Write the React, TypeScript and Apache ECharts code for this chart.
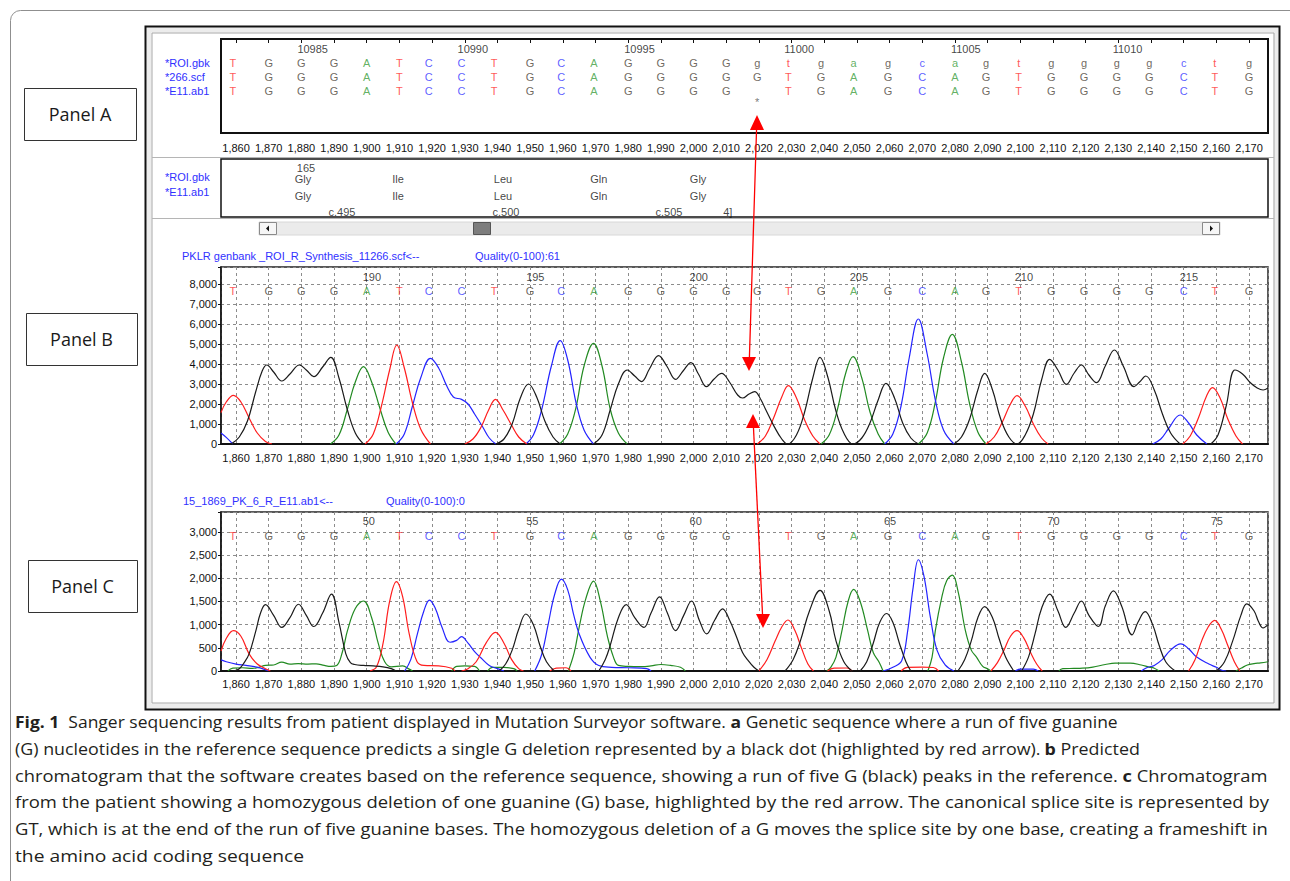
import React, { useEffect, useRef } from 'react';
import * as echarts from 'echarts';

// ---------- data ----------
const baseX = [1859, 1870, 1880, 1890, 1900, 1910, 1919, 1929, 1939, 1950, 1959.5, 1969.5, 1980, 1990, 2000, 2010, 2019.5, 2029, 2039, 2049, 2059.5, 2070, 2080, 2089.5, 2099.5, 2109.5, 2119.5, 2129.5, 2139.5, 2150, 2159.5, 2170];
const seqROI = 'TGGGATCCTGCAGGGGgtgagcagtggggctg'.split('');
const seq266 = 'TGGGATCCTGCAGGGGGTGAGCAGTGGGGCTG'.split('');
const seqE11 = 'TGGGATCCTGCAGGGG-TGAGCAGTGGGGCTG'.split('');
const refNums = ['10985', '10990', '10995', '11000', '11005', '11010'];
const refNumIdx = [2, 7, 12, 17, 22, 27];
const predNums = ['190', '195', '200', '205', '210', '215'];
const predNumIdx = [4, 9, 14, 19, 24, 29];
const patNums = ['50', '55', '60', '65', '70', '75'];
const patNumIdx = [4, 9, 14, 20, 25, 30];
const deletionIdx = 16;

const aminoRef = ['Gly', 'Ile', 'Leu', 'Gln', 'Gly'];
const aminoPat = ['Gly', 'Ile', 'Leu', 'Gln', 'Gly'];
const aminoX = [1880.5, 1909.6, 1941.7, 1971, 2001.4];
const codonLabels = ['c.495', 'c.500', 'c.505', '4]'];
const codonX = [1892.4, 1942.6, 1992.5, 2010.5];
const aminoNum = '165';
const aminoNumX = 1881.4;

// Panel B (predicted, reference) traces: [position, signal]
const predG = [
  [[1858.5, 0], [1861, 350], [1863.5, 1150], [1866, 2600], [1868, 3650], [1869.4, 3950], [1871.5, 3600], [1874, 3150], [1876.5, 3500], [1879.4, 3950], [1881.5, 3700], [1883.8, 3370], [1886.5, 3850], [1889, 4330], [1891.5, 3300], [1894, 1750], [1896.5, 550], [1899, 0]],
  [[1939.5, 0], [1942, 250], [1944.5, 1000], [1947, 2300], [1949.5, 3000], [1952, 2350], [1954.5, 1150], [1957, 350], [1959.2, 0]],
  [[1969.4, 0], [1972, 450], [1974.5, 1700], [1977, 3000], [1979.7, 3700], [1982, 3400], [1984.1, 3120], [1986.5, 3750], [1989.3, 4420], [1991.8, 3900], [1994.5, 3230], [1996.8, 3650], [1999.2, 4070], [2001.5, 3500], [2004, 2870], [2006.3, 3250], [2008.6, 3530], [2011, 3100], [2013.5, 2450], [2015, 2300], [2017, 2500], [2018.7, 2620], [2020.5, 2250], [2022, 1750], [2024.7, 870], [2027, 250], [2028.8, 0], [2031.5, 450], [2034, 1600], [2036.5, 3300], [2038.7, 4330], [2041, 3400], [2043.5, 1700], [2046, 550], [2048.8, 0], [2051.5, 300], [2054, 1050], [2056.5, 2200], [2058.9, 3030], [2061.5, 2300], [2064, 1050], [2066.5, 300], [2068.8, 0]],
  [[2079.7, 0], [2082, 350], [2084.5, 1250], [2087, 2700], [2089.1, 3530], [2091.5, 2700], [2094, 1250], [2096.5, 350], [2099, 0], [2101.5, 450], [2104, 1500], [2106.5, 3200], [2109, 4230], [2111.5, 3700], [2114.1, 2980], [2116.5, 3550], [2118.7, 3950], [2121, 3450], [2123.3, 3070], [2126, 3900], [2128.8, 4700], [2131.5, 3900], [2134.8, 2870], [2136.5, 3100], [2138.4, 3400], [2141, 2700], [2143.5, 1500], [2146, 550], [2148.9, 0]],
  [[2158.3, 0], [2160.5, 450], [2163, 1900], [2165.7, 3700], [2168, 3500], [2170.5, 3050], [2172.5, 2800], [2174.3, 2700], [2175.8, 2800]],
];
const predA = [
  [[1888.9, 0], [1891.5, 450], [1894, 1700], [1896.5, 3100], [1899, 3870], [1901.5, 3100], [1904, 1800], [1906.5, 600], [1908.9, 0]],
  [[1959, 0], [1961.5, 500], [1964, 1800], [1966.5, 3900], [1969.4, 5030], [1972, 3900], [1974.5, 1750], [1977, 550], [1979.7, 0]],
  [[2039, 0], [2041.5, 450], [2044, 1700], [2046.5, 3500], [2048.8, 4370], [2051.5, 3300], [2054, 1600], [2056.5, 500], [2058.5, 0]],
  [[2068.8, 0], [2071.5, 550], [2074, 2100], [2076.5, 4300], [2079.2, 5480], [2082, 4100], [2084.5, 2000], [2087, 600], [2089.5, 0]],
];
const predC = [
  [[1855.4, 550], [1857, 330], [1859, 0]],
  [[1909, 0], [1911.5, 500], [1914, 1900], [1916.5, 3300], [1919.5, 4280], [1922, 3800], [1924.5, 2900], [1926.5, 2350], [1929, 2230], [1931, 2000], [1933, 1500], [1935.5, 850], [1937.5, 300], [1939.5, 0]],
  [[1948.7, 0], [1951, 450], [1953.5, 1700], [1956.5, 3900], [1959.2, 5170], [1961.5, 4200], [1964, 2100], [1966.5, 700], [1969.4, 0]],
  [[2058.5, 0], [2061, 500], [2063.5, 1900], [2066, 4300], [2068.8, 6250], [2071.5, 4500], [2074, 2200], [2076.5, 700], [2079.7, 0]],
  [[2140.5, 0], [2143, 250], [2145.5, 800], [2148.9, 1450], [2151.5, 1050], [2154, 450], [2157.1, 0]],
];
const predT = [
  [[1855.4, 1570], [1857, 2100], [1859.2, 2430], [1861.5, 2100], [1864, 1300], [1866.5, 550], [1869, 130], [1871, 0]],
  [[1899.5, 0], [1902, 500], [1904.5, 1900], [1907, 3700], [1909.2, 4950], [1911.5, 3800], [1914, 2050], [1916.5, 750], [1919.5, 0]],
  [[1930, 0], [1932.5, 250], [1935, 850], [1937.3, 1700], [1939.4, 2230], [1941.7, 1700], [1944.3, 950], [1946.5, 350], [1949, 0]],
  [[2019.5, 0], [2022, 400], [2024.5, 1300], [2027, 2350], [2029, 2920], [2031.5, 2300], [2034, 1200], [2036.5, 400], [2038.7, 0]],
  [[2089.5, 0], [2092, 350], [2094.5, 1100], [2097, 2000], [2099, 2420], [2101.5, 1900], [2104, 1000], [2106.5, 300], [2108.5, 0]],
  [[2149.7, 0], [2152, 400], [2154.5, 1300], [2157, 2400], [2158.8, 2820], [2161, 2350], [2163.5, 1250], [2166, 400], [2168, 0]],
];

// Panel C (patient) traces
const patG = [
  [[1859.2, 0], [1861, 50], [1862.5, 180], [1864, 370], [1866, 850], [1867.5, 1250], [1869, 1430], [1871.5, 1200], [1874, 940], [1876.5, 1150], [1879.1, 1440], [1881.5, 1200], [1883.8, 960], [1886.5, 1250], [1889.2, 1660], [1891.5, 1050], [1893.6, 370], [1895, 180], [1896.3, 140], [1899, 120], [1902, 110], [1905, 90], [1907.5, 50], [1909, 0]],
  [[1940.5, 0], [1942.5, 150], [1944.5, 450], [1946.5, 900], [1948.7, 1230], [1951, 1000], [1953, 550], [1955, 200], [1957.4, 0]],
  [[1971, 0], [1973, 250], [1974.5, 550], [1977, 1150], [1979.4, 1430], [1982, 1150], [1984.8, 940], [1987, 1250], [1989.6, 1600], [1992, 1250], [1994.5, 870], [1997, 1200], [1999.4, 1510], [2001.8, 1090], [2004, 800], [2006.5, 1100], [2008.9, 1340], [2011, 1100], [2013.2, 730], [2015, 400], [2016.7, 230], [2018.5, 80], [2020, 0]],
  [[2028, 0], [2030.5, 250], [2032.7, 650], [2035.5, 1300], [2038.7, 1740], [2041.5, 1300], [2043.6, 650], [2046, 200], [2048.5, 0]],
  [[2051, 0], [2053, 200], [2055, 600], [2057, 1050], [2059.1, 1240], [2061, 1050], [2063, 600], [2065, 200], [2066.5, 0]],
  [[2080.9, 0], [2083, 250], [2085, 650], [2087, 1150], [2089.1, 1390], [2091.5, 1150], [2093.5, 700], [2095.5, 300], [2098, 0]],
  [[2100.4, 0], [2102.5, 300], [2104.5, 800], [2106.5, 1350], [2109, 1660], [2111.5, 1300], [2113.9, 940], [2116.5, 1250], [2118.7, 1510], [2121, 1200], [2123.9, 960], [2126, 1400], [2128.5, 1730], [2131, 1400], [2134.2, 780], [2136, 1050], [2138.2, 1280], [2140.5, 1000], [2142.5, 550], [2144.5, 200], [2147.4, 0]],
  [[2160, 0], [2162.5, 200], [2165, 650], [2167.5, 1200], [2169.3, 1450], [2171.5, 1300], [2173, 1050], [2174.3, 930], [2175.8, 1000]],
];
const patA = [
  [[1857.5, 0], [1859, 60], [1862, 70], [1865, 55], [1867, 80], [1869, 120], [1871.5, 130], [1874, 190], [1876.5, 150], [1879, 160], [1882, 150], [1884.5, 155], [1887, 120], [1889, 100], [1890.8, 120], [1892.5, 400], [1894.1, 870], [1896.5, 1350], [1899, 1510], [1901.5, 1150], [1903.5, 600], [1905.5, 200], [1907.5, 90], [1911, 110], [1913, 40], [1914, 0]],
  [[1926, 0], [1927.5, 100], [1930, 110], [1933, 100], [1934.5, 0]],
  [[1937, 0], [1938.5, 80], [1942, 80], [1945, 50], [1946, 0]],
  [[1961.7, 0], [1963.5, 400], [1965, 940], [1967, 1550], [1969.4, 1940], [1971.5, 1500], [1973.7, 730], [1975.5, 300], [1977, 120], [1980, 100], [1984, 95], [1987, 110], [1990, 140], [1993, 120], [1996, 80], [1997.5, 0]],
  [[2040.7, 0], [2042, 80], [2043.6, 300], [2045.5, 900], [2047.3, 1500], [2049, 1760], [2051, 1500], [2053.3, 870], [2055, 400], [2056.8, 190], [2058, 0]],
  [[2071.7, 0], [2073, 300], [2074, 870], [2076, 1600], [2077.5, 1950], [2079.2, 2070], [2081, 1700], [2083.2, 870], [2085, 450], [2086.6, 300], [2088.5, 100], [2090, 50], [2091, 0]],
  [[2111.8, 0], [2113, 50], [2116.4, 55], [2119, 60], [2122.2, 85], [2126, 140], [2129, 170], [2133.6, 170], [2137, 130], [2139.4, 85], [2141, 60], [2142.5, 0]],
  [[2166, 0], [2167.7, 65], [2169.5, 130], [2171.5, 160], [2173.5, 175], [2175.8, 200]],
];
const patC = [
  [[1855.4, 240], [1857, 200], [1860, 150], [1863, 120], [1866, 90], [1868, 50], [1870, 0]],
  [[1911.6, 0], [1913.5, 250], [1915.5, 800], [1917.5, 1300], [1919.2, 1530], [1921, 1350], [1923, 950], [1925.5, 620], [1927.5, 660], [1929, 740], [1931, 600], [1933, 420], [1935, 280], [1937.5, 120], [1940, 50], [1942, 0]],
  [[1951.4, 0], [1953.5, 350], [1955.5, 1000], [1957.5, 1650], [1959.6, 1980], [1961.5, 1750], [1963.2, 1250], [1965, 800], [1968.3, 300], [1971, 120], [1975, 80], [1980, 70], [1985.7, 50], [1987, 0]],
  [[2058, 0], [2061, 80], [2063.7, 220], [2065.5, 850], [2067.2, 1800], [2068.8, 2400], [2070.5, 2050], [2072.5, 1150], [2074.5, 450], [2077, 130], [2079.7, 0]],
  [[2098.5, 0], [2100, 40], [2104, 40], [2105.5, 0]],
  [[2137, 0], [2139, 80], [2141, 120], [2143.5, 250], [2146, 450], [2149.1, 585], [2151.5, 480], [2154, 300], [2157.7, 150], [2160, 80], [2161.7, 15], [2163, 0]],
];
const patT = [
  [[1855.4, 430], [1857, 700], [1859.2, 870], [1861.5, 750], [1864, 370], [1866.5, 150], [1869, 50], [1870.5, 0]],
  [[1901, 0], [1903, 90], [1905, 600], [1907, 1500], [1909.1, 1930], [1911, 1600], [1913, 800], [1915.4, 200], [1917.5, 120], [1922, 110], [1926, 60], [1927, 0]],
  [[1929, 0], [1931, 50], [1933.5, 200], [1936.5, 600], [1939.4, 835], [1942, 600], [1944.3, 250], [1946.5, 50], [1948, 0]],
  [[1956, 0], [1958, 60], [1961, 70], [1962.5, 0]],
  [[2020, 0], [2022.5, 250], [2025, 650], [2027, 950], [2028.9, 1100], [2031, 880], [2033, 500], [2035, 150], [2036.7, 0]],
  [[2041, 0], [2043, 60], [2047, 65], [2048.5, 0]],
  [[2063.5, 0], [2065.4, 80], [2070, 85], [2073.4, 75], [2075, 0]],
  [[2091, 0], [2093, 180], [2095, 450], [2097, 750], [2099, 870], [2101, 720], [2103, 420], [2105, 150], [2106.7, 0]],
  [[2151.5, 0], [2153.5, 250], [2155.5, 650], [2157.5, 950], [2159.5, 1090], [2161.5, 900], [2163.5, 550], [2165.5, 200], [2167.2, 0]],
];

const captionLines = [
  '{b|Fig. 1}  Sanger sequencing results from patient displayed in Mutation Surveyor software. {b|a} Genetic sequence where a run of five guanine',
  '(G) nucleotides in the reference sequence predicts a single G deletion represented by a black dot (highlighted by red arrow). {b|b} Predicted',
  'chromatogram that the software creates based on the reference sequence, showing a run of five G (black) peaks in the reference. {b|c} Chromatogram',
  'from the patient showing a homozygous deletion of one guanine (G) base, highlighted by the red arrow. The canonical splice site is represented by',
  'GT, which is at the end of the run of five guanine bases. The homozygous deletion of a G moves the splice site by one base, creating a frameshift in',
  'the amino acid coding sequence',
];
const captionRightEdge = [1118, 1140, 1268, 1268, 1268, 304];

// ---------- styling ----------
const SANS = '"Liberation Sans", Arial, sans-serif';
const NARROW = '"Liberation Sans Narrow", "Arial Narrow", "Liberation Sans", Arial, sans-serif';
const CAP = '"Open Sans", "Noto Sans", sans-serif';
const UI = '"Open Sans", "Noto Sans", sans-serif';
const letterColor: Record<string, string> = { T: '#ff2d2d', G: '#4a4236', A: '#3a9d3a', C: '#3535ff' };
const traceColor: Record<string, string> = { G: '#1a1a1a', A: '#228a22', C: '#2424ff', T: '#ff1e1e' };
const BLUE = '#3030ff';
const X_MIN = 1855.4;
const X_MAX = 2175.8;
const CAP_SIZE = 16.8;
const CAP_LEFT = 15;

const fmtNum = (v: number) => Math.round(v).toLocaleString('en-US');

function joinSegs(segs: number[][][]) {
  const out: any[] = [];
  segs.forEach((s, i) => {
    if (i > 0) out.push([s[0][0], '-']);
    s.forEach((p) => out.push([p[0], p[1]]));
  });
  return out;
}

// measure a rich caption line (with {b|...} bold runs) to fit its width
function measureRich(line: string, fs: number): number {
  try {
    const ctx = document.createElement('canvas').getContext('2d');
    if (!ctx) return 0;
    let w = 0;
    const re = /\{b\|([^}]*)\}/g;
    let last = 0;
    let m: RegExpExecArray | null;
    while ((m = re.exec(line))) {
      ctx.font = `${fs}px ${CAP}`;
      w += ctx.measureText(line.slice(last, m.index)).width;
      ctx.font = `bold ${fs}px ${CAP}`;
      w += ctx.measureText(m[1]).width;
      last = m.index + m[0].length;
    }
    ctx.font = `${fs}px ${CAP}`;
    w += ctx.measureText(line.slice(last)).width;
    return w;
  } catch (e) {
    return 0;
  }
}

function xAxisDef(gi: number, show: boolean, margin: number, ticks: boolean, split: boolean) {
  return {
    type: 'value',
    gridIndex: gi,
    min: X_MIN,
    max: X_MAX,
    splitNumber: 32,
    minInterval: 10,
    maxInterval: 10,
    show: true,
    axisLine: { show: show, lineStyle: { color: '#111', width: 2 } },
    axisTick: { show: ticks, length: 4, inside: false, lineStyle: { color: '#111', width: 1 } },
    axisLabel: {
      show,
      margin,
      showMinLabel: true,
      showMaxLabel: true,
      fontFamily: SANS,
      fontSize: 11,
      color: '#111',
      formatter: (v: number) => (Math.abs(v - Math.round(v / 10) * 10) < 1e-6 ? fmtNum(v) : ''),
    },
    splitLine: { show: split, lineStyle: { color: '#8c8c8c', type: [3, 3], width: 1 } },
  };
}

function yAxisChrom(gi: number, max: number, interval: number) {
  return {
    type: 'value',
    gridIndex: gi,
    min: 0,
    max,
    interval,
    axisLine: { show: true, lineStyle: { color: '#111', width: 1.5 } },
    axisTick: { show: true, length: 3, lineStyle: { color: '#111' } },
    axisLabel: {
      margin: 4,
      fontFamily: SANS,
      fontSize: 11,
      color: '#111',
      showMaxLabel: true,
      formatter: (v: number) => (Math.abs(v - Math.round(v / interval) * interval) < 1e-6 ? fmtNum(v) : ''),
    },
    splitLine: { show: true, lineStyle: { color: '#8c8c8c', type: [3, 3], width: 1 } },
  };
}

function textSeries(axis: number, items: any[], labelExtra: any = {}) {
  return {
    type: 'scatter',
    xAxisIndex: axis,
    yAxisIndex: axis,
    symbol: 'circle',
    symbolSize: 1,
    silent: true,
    z: 6,
    itemStyle: { color: 'rgba(0,0,0,0)' },
    label: {
      show: true,
      position: 'inside',
      formatter: '{b}',
      fontFamily: SANS,
      fontSize: 11,
      align: 'center',
      verticalAlign: 'middle',
      ...labelExtra,
    },
    data: items,
  };
}

function letterItems(letters: string[], y: number) {
  const out: any[] = [];
  letters.forEach((L, i) => {
    if (L === '-' || L === ' ') return;
    out.push({ name: L, value: [baseX[i], y], label: { color: letterColor[L.toUpperCase()] } });
  });
  return out;
}

function numItems(labels: string[], idx: number[], y: number) {
  return labels.map((t, i) => ({ name: t, value: [baseX[idx[i]], y] }));
}

function traceSeries(axis: number, segs: number[][][], color: string) {
  return {
    type: 'line',
    xAxisIndex: axis,
    yAxisIndex: axis,
    data: joinSegs(segs),
    smooth: 0.4,
    showSymbol: false,
    symbol: 'none',
    connectNulls: false,
    silent: true,
    z: 3,
    lineStyle: { color, width: 1.2 },
  };
}

function buildOption() {
  const graphic: any[] = [];
  const txt = (x: number, y: number, text: string, o: any = {}) => ({
    type: 'text',
    x,
    y,
    scaleX: o.scaleX ?? 1,
    silent: true,
    z: o.z ?? 5,
    style: {
      text,
      fill: o.fill ?? '#111',
      fontSize: o.fontSize ?? 11,
      fontFamily: o.fontFamily ?? SANS,
      fontWeight: o.fontWeight ?? 'normal',
      align: o.align ?? 'left',
      textAlign: o.align ?? 'left',
      verticalAlign: 'middle',
      textVerticalAlign: 'middle',
      rich: o.rich,
    },
  });

  // outer rounded figure box
  graphic.push({ type: 'rect', silent: true, z: 0, shape: { x: 10.5, y: 10.5, width: 1300, height: 900, r: 10 }, style: { fill: 'none', stroke: '#8f8f8f', lineWidth: 1 } });
  // software window frame
  graphic.push({ type: 'rect', silent: true, z: 0, shape: { x: 149, y: 30, width: 1127, height: 676 }, style: { fill: 'none', stroke: '#ececec', lineWidth: 5 } });
  graphic.push({ type: 'rect', silent: true, z: 0, shape: { x: 145.5, y: 26.5, width: 1134, height: 683 }, style: { fill: 'none', stroke: '#111', lineWidth: 2 } });
  graphic.push({ type: 'rect', silent: true, z: 0, shape: { x: 152, y: 33, width: 1122, height: 670 }, style: { fill: 'none', stroke: '#a8a8a8', lineWidth: 1 } });
  graphic.push({ type: 'line', silent: true, z: 0, shape: { x1: 152, y1: 157.5, x2: 1274, y2: 157.5 }, style: { stroke: '#b5b5b5', lineWidth: 1 } });
  graphic.push({ type: 'line', silent: true, z: 0, shape: { x1: 152, y1: 218.5, x2: 1274, y2: 218.5 }, style: { stroke: '#b5b5b5', lineWidth: 1 } });

  // scrollbar
  graphic.push({ type: 'rect', silent: true, z: 1, shape: { x: 259, y: 222, width: 961, height: 13 }, style: { fill: '#ebebeb', stroke: '#d8d8d8', lineWidth: 1 } });
  graphic.push({ type: 'rect', silent: true, z: 2, shape: { x: 259.5, y: 222.5, width: 17, height: 12 }, style: { fill: '#f6f6f6', stroke: '#8a8a8a', lineWidth: 1 } });
  graphic.push({ type: 'polygon', silent: true, z: 3, shape: { points: [[266, 228.5], [269, 225.5], [269, 231.5]] }, style: { fill: '#111' } });
  graphic.push({ type: 'rect', silent: true, z: 2, shape: { x: 1202.5, y: 222.5, width: 17, height: 12 }, style: { fill: '#f6f6f6', stroke: '#8a8a8a', lineWidth: 1 } });
  graphic.push({ type: 'polygon', silent: true, z: 3, shape: { points: [[1213, 228.5], [1210, 225.5], [1210, 231.5]] }, style: { fill: '#111' } });
  graphic.push({ type: 'rect', silent: true, z: 2, shape: { x: 473.5, y: 222.5, width: 17, height: 12 }, style: { fill: '#7d7d7d', stroke: '#555', lineWidth: 1 } });

  // panel label boxes
  const panels = [
    { t: 'Panel A', x: 24, y: 88, w: 112, h: 52 },
    { t: 'Panel B', x: 26, y: 313, w: 111, h: 52 },
    { t: 'Panel C', x: 28, y: 560, w: 109, h: 52 },
  ];
  panels.forEach((p) => {
    graphic.push({ type: 'rect', silent: true, z: 1, shape: { x: p.x + 0.5, y: p.y + 0.5, width: p.w, height: p.h }, style: { fill: '#fff', stroke: '#333', lineWidth: 1 } });
    graphic.push(txt(p.x + p.w / 2, p.y + p.h / 2, p.t, { fontSize: 18, fontFamily: UI, align: 'center', fill: '#1a1a1a', z: 2 }));
  });

  // row labels
  graphic.push(txt(165, 63, '*ROI.gbk', { fill: BLUE }));
  graphic.push(txt(165, 77, '*266.scf', { fill: BLUE }));
  graphic.push(txt(165, 91, '*E11.ab1', { fill: BLUE }));
  graphic.push(txt(165, 177, '*ROI.gbk', { fill: BLUE }));
  graphic.push(txt(165, 192, '*E11.ab1', { fill: BLUE }));
  graphic.push(txt(182, 256, 'PKLR genbank _ROI_R_Synthesis_11266.scf<--', { fill: BLUE }));
  graphic.push(txt(475, 256, 'Quality(0-100):61', { fill: BLUE }));
  graphic.push(txt(183, 501, '15_1869_PK_6_R_E11.ab1<--', { fill: BLUE }));
  graphic.push(txt(386, 501, 'Quality(0-100):0', { fill: BLUE }));

  // red double arrows
  const red = '#ff0000';
  graphic.push({ type: 'line', silent: true, z: 50, shape: { x1: 756.6, y1: 128, x2: 749.4, y2: 358 }, style: { stroke: red, lineWidth: 1.3 } });
  graphic.push({ type: 'polygon', silent: true, z: 50, shape: { points: [[757, 115], [750, 130], [764, 130]] }, style: { fill: red } });
  graphic.push({ type: 'polygon', silent: true, z: 50, shape: { points: [[749, 371], [742, 357], [756, 357]] }, style: { fill: red } });
  graphic.push({ type: 'line', silent: true, z: 50, shape: { x1: 753.4, y1: 426, x2: 762.6, y2: 616 }, style: { stroke: red, lineWidth: 1.3 } });
  graphic.push({ type: 'polygon', silent: true, z: 50, shape: { points: [[753, 414], [746, 428], [760, 428]] }, style: { fill: red } });
  graphic.push({ type: 'polygon', silent: true, z: 50, shape: { points: [[763, 628], [756, 614], [770, 614]] }, style: { fill: red } });

  // caption (each line horizontally fitted to the reference's line length)
  captionLines.forEach((line, i) => {
    const w = measureRich(line, CAP_SIZE);
    const target = captionRightEdge[i] - CAP_LEFT;
    let sx = w > 0 ? target / w : 1;
    sx = Math.max(0.8, Math.min(1.2, sx));
    graphic.push(
      txt(CAP_LEFT, 722 + i * 26.6, line, {
        fontSize: CAP_SIZE,
        fontFamily: CAP,
        fill: '#231f20',
        scaleX: sx,
        rich: { b: { fontWeight: 'bold', fontSize: CAP_SIZE, fontFamily: CAP, fill: '#231f20', color: '#231f20' } },
      })
    );
  });

  const GRID_L = 221;
  const GRID_W = 1047;

  return {
    animation: false,
    backgroundColor: '#ffffff',
    textStyle: { fontFamily: SANS },
    grid: [
      { left: GRID_L, top: 39, width: GRID_W, height: 94, show: true, borderColor: '#111', borderWidth: 2, backgroundColor: 'transparent' },
      { left: GRID_L, top: 159, width: GRID_W, height: 58, show: true, borderColor: '#111', borderWidth: 1.5, backgroundColor: 'transparent' },
      { left: GRID_L, top: 267, width: GRID_W, height: 177, show: true, borderColor: '#222', borderWidth: 1.5, backgroundColor: 'transparent' },
      { left: GRID_L, top: 512, width: GRID_W, height: 159, show: true, borderColor: '#222', borderWidth: 1.5, backgroundColor: 'transparent' },
    ],
    xAxis: [
      xAxisDef(0, true, 9, true, false),
      { ...xAxisDef(1, false, 0, false, false), show: false },
      xAxisDef(2, true, 8, false, true),
      xAxisDef(3, true, 7, false, true),
    ],
    yAxis: [
      { type: 'value', gridIndex: 0, min: 0, max: 94, inverse: true, show: false },
      { type: 'value', gridIndex: 1, min: 0, max: 58, inverse: true, show: false },
      yAxisChrom(2, 8850, 1000),
      yAxisChrom(3, 3430, 500),
    ],
    graphic,
    series: [
      // Panel A
      textSeries(0, letterItems(seqROI, 24)),
      textSeries(0, letterItems(seq266, 38)),
      textSeries(0, letterItems(seqE11, 52)),
      textSeries(0, numItems(refNums, refNumIdx, 10), { align: 'left', offset: [-4, 0], color: '#111' }),
      textSeries(0, [{ name: '*', value: [baseX[deletionIdx], 63] }], { color: '#555' }),
      // amino acid panel
      textSeries(1, [{ name: aminoNum, value: [aminoNumX, 9] }], { color: '#111', fontFamily: NARROW }),
      textSeries(1, aminoRef.map((a, i) => ({ name: a, value: [aminoX[i], 20] })), { color: '#111', fontFamily: NARROW }),
      textSeries(1, aminoPat.map((a, i) => ({ name: a, value: [aminoX[i], 37] })), { color: '#111', fontFamily: NARROW }),
      textSeries(1, codonLabels.map((a, i) => ({ name: a, value: [codonX[i], 53] })), { color: '#111', fontFamily: NARROW }),
      // Panel B
      traceSeries(2, predA, traceColor.A),
      traceSeries(2, predC, traceColor.C),
      traceSeries(2, predT, traceColor.T),
      traceSeries(2, predG, traceColor.G),
      textSeries(2, letterItems(seq266, 7650)),
      textSeries(2, numItems(predNums, predNumIdx, 8350), { align: 'left', offset: [-4, 0], color: '#111' }),
      // Panel C
      traceSeries(3, patA, traceColor.A),
      traceSeries(3, patC, traceColor.C),
      traceSeries(3, patT, traceColor.T),
      traceSeries(3, patG, traceColor.G),
      textSeries(3, letterItems(seqE11, 2912)),
      textSeries(3, numItems(patNums, patNumIdx, 3242), { align: 'left', offset: [-4, 0], color: '#111' }),
    ],
  };
}

export default function App() {
  const ref = useRef<HTMLDivElement>(null);
  useEffect(() => {
    if (!ref.current) return;
    const chart = echarts.init(ref.current, null, { renderer: 'svg' });
    chart.setOption(buildOption() as any);
    return () => {
      chart.dispose();
    };
  }, []);
  return (
    <div
      ref={ref}
      style={{ position: 'absolute', left: 0, top: 0, width: 1290, height: 881, background: '#ffffff' }}
    />
  );
}
